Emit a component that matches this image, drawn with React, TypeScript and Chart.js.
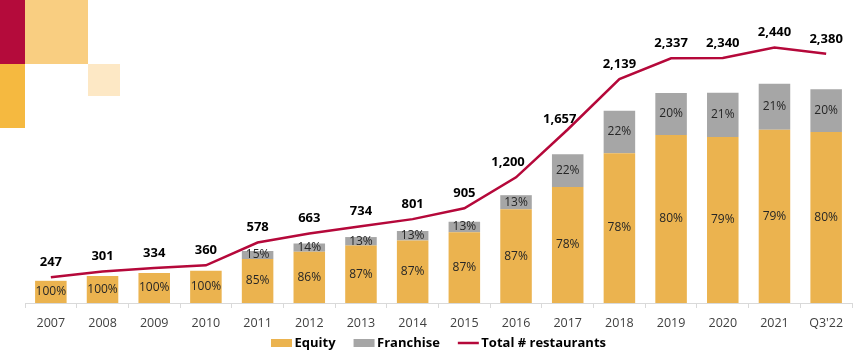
import React, { useEffect, useRef } from "react";
import { Chart, registerables } from "chart.js";

Chart.register(...registerables);

const categories = ["2007", "2008", "2009", "2010", "2011", "2012", "2013", "2014", "2015", "2016", "2017", "2018", "2019", "2020", "2021", "Q3'22"];
const totalRestaurants = [247, 301, 334, 360, 578, 663, 734, 801, 905, 1200, 1657, 2139, 2337, 2340, 2440, 2380];
const equityCount = [247, 301, 334, 360, 491, 570, 639, 697, 787, 1044, 1292, 1668, 1870, 1849, 1928, 1904];
const franchiseCount = [0, 0, 0, 0, 87, 93, 95, 104, 118, 156, 365, 471, 467, 491, 512, 476];
const equityPctLabels = ["100%", "100%", "100%", "100%", "85%", "86%", "87%", "87%", "87%", "87%", "78%", "78%", "80%", "79%", "79%", "80%"];
const franchisePctLabels = ["", "", "", "", "15%", "14%", "13%", "13%", "13%", "13%", "22%", "22%", "20%", "21%", "21%", "20%"];

const EQUITY = "#EBB34F";
const FRANCHISE = "#A6A6A6";
const LINE = "#B5083A";
const FONT = "'Open Sans', 'Noto Sans', sans-serif";

const fmt = (n: number) => String(n).replace(/\B(?=(\d{3})+(?!\d))/g, ",");

const totalLabelShift: Record<number, [number, number]> = {
  9: [-8, 0],
  10: [-8, 5],
};

const labelsPlugin = {
  id: "valueLabels",
  afterDatasetsDraw(chart: any) {
    const ctx = chart.ctx;
    ctx.save();
    ctx.textAlign = "center";
    ctx.textBaseline = "middle";
    ctx.font = `12px ${FONT}`;
    ctx.fillStyle = "#262626";
    [0, 1].forEach((di) => {
      const meta = chart.getDatasetMeta(di);
      const labels = di === 0 ? equityPctLabels : franchisePctLabels;
      meta.data.forEach((el: any, i: number) => {
        const lab = labels[i];
        if (!lab) return;
        const p = el.getProps(["x", "y", "base"], true);
        ctx.fillText(lab, p.x, (p.y + p.base) / 2);
      });
    });
    const lm = chart.getDatasetMeta(2);
    ctx.font = `bold 13px ${FONT}`;
    ctx.fillStyle = "#000000";
    lm.data.forEach((el: any, i: number) => {
      const s = totalLabelShift[i] || [0, 0];
      ctx.fillText(fmt(totalRestaurants[i]), el.x + s[0], el.y - 15 + s[1]);
    });
    ctx.restore();
  },
  afterDraw(chart: any) {
    const ctx = chart.ctx;
    ctx.save();
    ctx.font = `bold 13px ${FONT}`;
    ctx.textBaseline = "middle";
    ctx.textAlign = "left";
    const items = [
      { text: "Equity", color: EQUITY, type: "box" },
      { text: "Franchise", color: FRANCHISE, type: "box" },
      { text: "Total # restaurants", color: LINE, type: "line" },
    ];
    const boxW = 21;
    const gap = 2.5;
    const spacing = 18;
    const widths = items.map((it) => boxW + gap + ctx.measureText(it.text).width);
    const total = widths.reduce((a, b) => a + b, 0) + spacing * (items.length - 1);
    const area = chart.chartArea;
    let x = (area.left + area.right) / 2 - total / 2;
    const y = 343;
    items.forEach((it, i) => {
      if (it.type === "box") {
        ctx.fillStyle = it.color;
        ctx.fillRect(x, y - 4, boxW, 8);
      } else {
        ctx.strokeStyle = it.color;
        ctx.lineWidth = 2.5;
        ctx.beginPath();
        ctx.moveTo(x, y);
        ctx.lineTo(x + boxW, y);
        ctx.stroke();
      }
      ctx.fillStyle = "#000000";
      ctx.fillText(it.text, x + boxW + gap, y);
      x += widths[i] + spacing;
    });
    ctx.restore();
  },
};

export default function App() {
  const ref = useRef<HTMLCanvasElement | null>(null);

  useEffect(() => {
    document.body.style.margin = "0";
    if (!ref.current) return;
    const chart = new Chart(ref.current, {
      type: "bar",
      data: {
        labels: categories,
        datasets: [
          {
            type: "bar",
            label: "Equity",
            data: equityCount,
            backgroundColor: EQUITY,
            stack: "s",
            yAxisID: "y",
            order: 1,
            barPercentage: 0.61,
            categoryPercentage: 1,
          },
          {
            type: "bar",
            label: "Franchise",
            data: franchiseCount,
            backgroundColor: FRANCHISE,
            stack: "s",
            yAxisID: "y",
            order: 1,
            barPercentage: 0.61,
            categoryPercentage: 1,
          },
          {
            type: "line",
            label: "Total # restaurants",
            data: totalRestaurants,
            borderColor: LINE,
            backgroundColor: LINE,
            borderWidth: 2.5,
            pointRadius: 0,
            tension: 0,
            yAxisID: "y1",
            order: 0,
          },
        ],
      },
      options: {
        responsive: false,
        animation: false,
        devicePixelRatio: 1,
        layout: { padding: { left: 25, right: 10, top: 20, bottom: 17 } },
        plugins: {
          legend: { display: false },
          tooltip: { enabled: false },
        },
        scales: {
          x: {
            stacked: true,
            grid: {
              display: true,
              drawOnChartArea: false,
              drawTicks: true,
              tickLength: 5,
              color: "#D9D9D9",
              offset: true,
            },
            border: { display: true, color: "#D9D9D9" },
            ticks: {
              font: { family: FONT, size: 12.5 },
              color: "#404040",
              padding: 8,
              maxRotation: 0,
              autoSkip: false,
            },
          },
          y: {
            display: false,
            stacked: true,
            min: 0,
            max: 3150,
          },
          y1: {
            display: false,
            min: 0,
            max: 2703,
          },
        },
      },
      plugins: [labelsPlugin],
    } as any);
    return () => chart.destroy();
  }, []);

  const sq = (left: number, top: number, w: number, h: number, c: string) => (
    <div style={{ position: "absolute", left, top, width: w, height: h, background: c }} />
  );

  return (
    <div style={{ position: "relative", width: 862, height: 356, background: "#ffffff" }}>
      {sq(0, 0, 25, 64, "#B40B3B")}
      {sq(25, 0, 63, 64, "#F9CE81")}
      {sq(0, 64, 25, 64, "#F5B940")}
      {sq(88, 64, 32, 32, "#FDE8C5")}
      <canvas ref={ref} width={862} height={356} style={{ position: "absolute", left: 0, top: 0, display: "block" }} />
    </div>
  );
}
